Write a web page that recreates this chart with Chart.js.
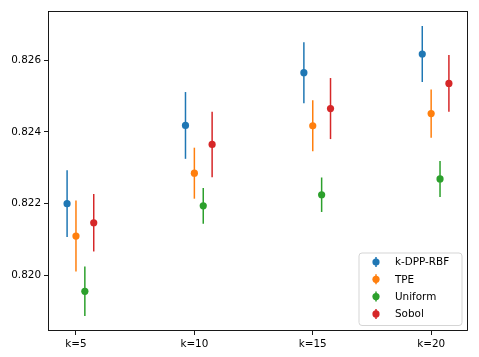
<!DOCTYPE html>
<html><head><meta charset="utf-8">
<script src="https://cdn.jsdelivr.net/npm/chart.js@4"></script>
<style>html,body{margin:0;padding:0;background:#fff}canvas{display:block}</style>
</head><body>
<canvas id="c" width="479" height="357"></canvas>
<script>
const categories = ['k=5', 'k=10', 'k=15', 'k=20'];
const seriesNames = ['k-DPP-RBF', 'TPE', 'Uniform', 'Sobol'];
const kdppMean = [0.82200, 0.82418, 0.82565, 0.82617];
const kdppErr = [0.00093, 0.00093, 0.00085, 0.00078];
const tpeMean = [0.82110, 0.82285, 0.82417, 0.82451];
const tpeErr = [0.00099, 0.00071, 0.00071, 0.00067];
const uniformMean = [0.81956, 0.82194, 0.82225, 0.82269];
const uniformErr = [0.00069, 0.00050, 0.00048, 0.00050];
const sobolMean = [0.82147, 0.82365, 0.82465, 0.82535];
const sobolErr = [0.00080, 0.00091, 0.00085, 0.00079];
const yTicks = [0.820, 0.822, 0.824, 0.826];

const colors = ['#1f77b4', '#ff7f0e', '#2ca02c', '#d62728'];
const offsets = [-0.075, 0, 0.075, 0.15];
const means = [kdppMean, tpeMean, uniformMean, sobolMean];
const errs = [kdppErr, tpeErr, uniformErr, sobolErr];
const FONT = {family: '"DejaVu Sans", sans-serif', size: 10.4};

const datasets = seriesNames.map((name, j) => ({
  label: name,
  data: means[j].map((v, i) => ({x: i + offsets[j], y: v})),
  errors: errs[j],
  backgroundColor: colors[j],
  borderColor: colors[j],
  pointRadius: 3.6,
  pointHoverRadius: 3.6,
  pointBorderWidth: 0,
  showLine: false
}));

const errorBars = {
  id: 'errorBars',
  beforeDatasetsDraw(chart) {
    const ctx = chart.ctx, ys = chart.scales.y, xs = chart.scales.x;
    ctx.save();
    chart.data.datasets.forEach(ds => {
      ctx.strokeStyle = ds.borderColor;
      ctx.lineWidth = 1.5;
      ds.data.forEach((p, i) => {
        const px = xs.getPixelForValue(p.x);
        ctx.beginPath();
        ctx.moveTo(px, ys.getPixelForValue(p.y - ds.errors[i]));
        ctx.lineTo(px, ys.getPixelForValue(p.y + ds.errors[i]));
        ctx.stroke();
      });
    });
    ctx.restore();
  },
  afterDatasetsDraw(chart) {
    const ctx = chart.ctx, a = chart.chartArea;
    ctx.save();
    // frame
    ctx.strokeStyle = '#000';
    ctx.lineWidth = 0.9;
    ctx.strokeRect(Math.round(a.left) + 0.5, Math.round(a.top) + 0.5,
      Math.round(a.right - a.left) - 1, Math.round(a.bottom - a.top) - 1);
    // legend
    const w = 103, rowH = 17.3, h = 72.5;
    const x0 = a.right - 6.5 - w, y0 = a.bottom - 6 - h;
    ctx.beginPath();
    ctx.roundRect(x0 + 0.5, y0 + 0.5, w, h, 3);
    ctx.fillStyle = 'rgba(255,255,255,0.8)';
    ctx.fill();
    ctx.strokeStyle = '#d5d5d5';
    ctx.lineWidth = 1;
    ctx.stroke();
    ctx.font = FONT.size + 'px ' + FONT.family;
    ctx.textBaseline = 'middle';
    ctx.textAlign = 'left';
    chart.data.datasets.forEach((ds, j) => {
      const cy = y0 + 9.5 + j * rowH;
      const mx = x0 + 17.5;
      ctx.strokeStyle = ds.borderColor;
      ctx.lineWidth = 1.5;
      ctx.beginPath();
      ctx.moveTo(mx, cy - 5); ctx.lineTo(mx, cy + 5); ctx.stroke();
      ctx.beginPath();
      ctx.arc(mx, cy, 3.6, 0, Math.PI * 2);
      ctx.fillStyle = ds.backgroundColor;
      ctx.fill();
      ctx.fillStyle = '#000';
      ctx.fillText(ds.label, x0 + 36.5, cy + 0.5);
    });
    ctx.restore();
  }
};

new Chart(document.getElementById('c'), {
  type: 'scatter',
  data: {datasets},
  options: {
    responsive: false,
    animation: false,
    devicePixelRatio: 1,
    layout: {padding: {left: 0, top: 11, right: 11, bottom: 0}},
    plugins: {legend: {display: false}, tooltip: {enabled: false}},
    scales: {
      x: {
        type: 'linear',
        min: -0.23625,
        max: 3.31125,
        afterBuildTicks(s) { s.ticks = categories.map((c, i) => ({value: i})); },
        afterFit(s) { s.height = 26; },
        ticks: {
          callback: (v) => categories[Math.round(v)],
          color: '#000', font: FONT, padding: 3, maxRotation: 0, autoSkip: false
        },
        grid: {display: true, drawOnChartArea: false, drawTicks: true, tickLength: 4, color: '#000', lineWidth: 0.9},
        border: {display: false}
      },
      y: {
        min: 0.818455,
        max: 0.827367,
        afterBuildTicks(s) { s.ticks = yTicks.map(v => ({value: v})); },
        afterFit(s) { s.width = 48; },
        ticks: {
          callback: (v) => v.toFixed(3),
          color: '#000', font: FONT, padding: 3
        },
        grid: {display: true, drawOnChartArea: false, drawTicks: true, tickLength: 4, color: '#000', lineWidth: 0.9},
        border: {display: false}
      }
    }
  },
  plugins: [errorBars]
});
</script>
</body></html>
